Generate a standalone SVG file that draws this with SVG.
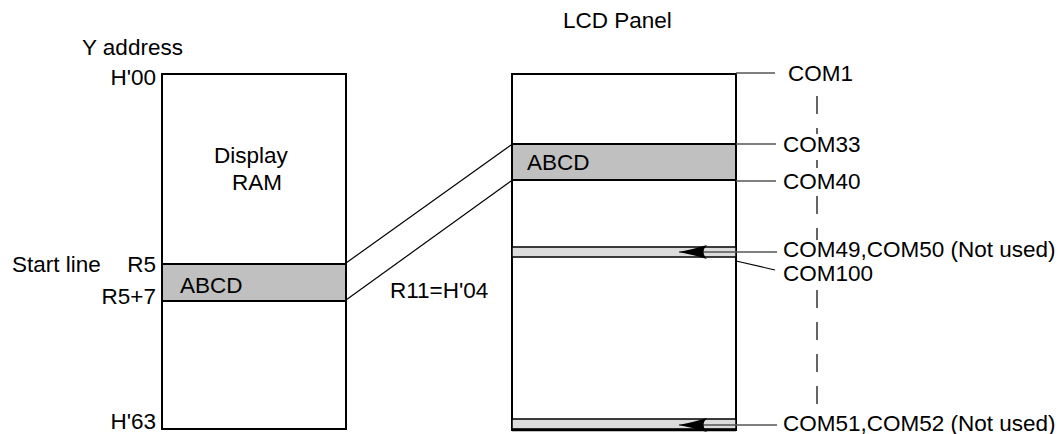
<svg xmlns="http://www.w3.org/2000/svg" width="1063" height="434" viewBox="0 0 1063 434">
<style>
text{font-family:"Liberation Sans",Arial,sans-serif;font-size:22.5px;fill:#000}
.box{fill:#fff;stroke:#000;stroke-width:2}
.band{fill:#c0c0c0;stroke:#000;stroke-width:2}
.thin{fill:#dcdcdc;stroke:#000;stroke-width:1.5}
.ln{stroke:#000;stroke-width:1.2;fill:none}
.gl{stroke:#555;stroke-width:1.5;fill:none}
.dash{stroke:#000;stroke-width:1.2;stroke-dasharray:18 14}
</style>
<defs>
<marker id="ah" markerWidth="30" markerHeight="14" refX="29" refY="7" orient="auto" markerUnits="userSpaceOnUse">
<path d="M29,7 Q14,4 1,0 Q8,7 1,14 Q14,10 29,7 Z" fill="#000"/>
</marker>
</defs>
<g id="labels">
<text x="82" y="55">Y address</text>
<text x="563" y="28">LCD Panel</text>
</g>
<g id="ram">
<rect class="box" x="162" y="74" width="184" height="355"/>
<rect class="band" x="162" y="264" width="184" height="37"/>
<text x="214" y="163">Display</text>
<text x="232" y="190">RAM</text>
<text x="180" y="293">ABCD</text>
<text x="156" y="85" text-anchor="end">H'00</text>
<text x="156" y="429" text-anchor="end">H'63</text>
<text x="12" y="272">Start line</text>
<text x="156" y="272" text-anchor="end">R5</text>
<text x="156" y="304" text-anchor="end">R5+7</text>
</g>
<g id="lcd">
<rect class="box" x="512" y="74" width="224" height="356"/>
<rect class="band" x="512" y="144" width="224" height="36"/>
<text x="527" y="170">ABCD</text>
<rect class="thin" x="512" y="247" width="224" height="10"/>
<rect class="thin" x="512" y="419" width="224" height="10"/>
<line x1="512" y1="430" x2="736" y2="430" stroke="#000" stroke-width="2.5"/>
</g>
<g id="connectors">
<line class="ln" x1="346" y1="263" x2="511" y2="145"/>
<line class="ln" x1="346" y1="300" x2="511" y2="181"/>
<line class="gl" x1="736" y1="73" x2="775" y2="73"/>
<line class="gl" x1="736" y1="144" x2="776" y2="144"/>
<line class="gl" x1="736" y1="181" x2="776" y2="181"/>
<line class="gl" x1="777" y1="252" x2="679" y2="252" marker-end="url(#ah)"/>
<line class="ln" x1="736" y1="261" x2="775" y2="270"/>
<line class="gl" x1="777" y1="425" x2="679" y2="425" marker-end="url(#ah)"/>
<line class="dash" x1="817" y1="96" x2="817" y2="134"/>
<line class="dash" x1="817" y1="160" x2="817" y2="168"/>
<line class="dash" x1="817" y1="196" x2="817" y2="240"/>
<line class="dash" x1="817" y1="290" x2="817" y2="410"/>
</g>
<g id="com-labels">
<text x="788" y="81">COM1</text>
<text x="783" y="152">COM33</text>
<text x="783" y="189">COM40</text>
<text x="783" y="257">COM49,COM50 (Not used)</text>
<text x="783" y="281">COM100</text>
<text x="783" y="431">COM51,COM52 (Not used)</text>
<text x="390" y="298">R11=H'04</text>
</g>
</svg>
